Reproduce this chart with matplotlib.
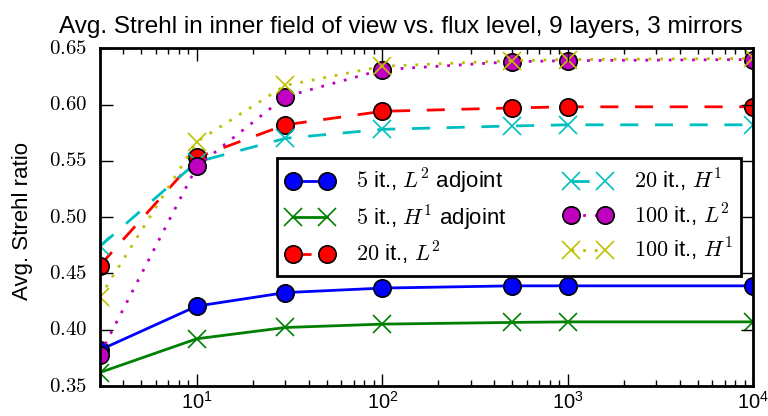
import matplotlib
matplotlib.use("Agg")
import matplotlib.pyplot as plt

plt.style.use("classic")
plt.rcParams["mathtext.fontset"] = "cm"
plt.rcParams["font.family"] = ["Liberation Sans", "DejaVu Sans"]
plt.rcParams["figure.facecolor"] = "white"

# flux levels
flux = [3, 10, 30, 100, 500, 1000, 10000]

# average Strehl ratio per method
l2_5 = [0.382, 0.421, 0.433, 0.437, 0.439, 0.439, 0.439]
h1_5 = [0.362, 0.392, 0.402, 0.405, 0.4065, 0.407, 0.407]
l2_20 = [0.457, 0.553, 0.582, 0.594, 0.597, 0.598, 0.598]
h1_20 = [0.474, 0.549, 0.570, 0.578, 0.581, 0.582, 0.582]
l2_100 = [0.378, 0.545, 0.607, 0.631, 0.638, 0.639, 0.640]
h1_100 = [0.429, 0.567, 0.617, 0.634, 0.639, 0.640, 0.641]

fig = plt.figure(figsize=(7.68, 4.16), dpi=100)
ax = fig.add_axes([0.130, 0.072, 0.851, 0.812])

ms = 12.5
dash = (13, 12)
dot = (2, 6.4)
ax.plot(flux, l2_5, "b-o", lw=2, ms=ms, mew=1.2, label="$5$ it., $L^2$ adjoint")
ax.plot(flux, h1_5, "g-x", lw=2, ms=ms, mew=1.2, label="$5$ it., $H^1$ adjoint")
ax.plot(flux, l2_20, "r--o", lw=2, ms=ms, mew=1.2, dashes=dash, label="$20$ it., $L^2$")
ax.plot(flux, h1_20, "c--x", lw=2, ms=ms, mew=1.2, dashes=dash, label="$20$ it., $H^1$")
ax.plot(flux, l2_100, "m:o", lw=2, ms=ms, mew=1.2, dashes=dot, label="$100$ it., $L^2$")
ax.plot(flux, h1_100, "y:x", lw=2, ms=ms, mew=1.2, dashes=dot, label="$100$ it., $H^1$")

ax.set_xscale("log")
ax.set_xlim(3, 10000)
ax.set_ylim(0.35, 0.65)
ax.set_yticks([0.35, 0.40, 0.45, 0.50, 0.55, 0.60, 0.65])
ax.set_yticklabels(["$0.35$", "$0.40$", "$0.45$", "$0.50$", "$0.55$", "$0.60$", "$0.65$"])
for s in ax.spines.values():
    s.set_linewidth(2)
ax.tick_params(which="major", length=9, width=1, labelsize=15)
ax.tick_params(axis="x", which="major", pad=3.5, labelsize=14.5)
ax.tick_params(axis="y", which="major", pad=9)
ax.tick_params(which="minor", length=4.5, width=1)

ax.set_title("Avg. Strehl in inner field of view vs. flux level, 9 layers, 3 mirrors",
             fontsize=17.5, x=0.461, pad=11)
ax.set_ylabel("Avg. Strehl ratio", fontsize=16)
ax.yaxis.set_label_coords(-0.103, 0.49)

leg = ax.legend(loc="center right", ncol=2, numpoints=2, fontsize=16,
                borderaxespad=0.55, columnspacing=2.6, handletextpad=1.0,
                handlelength=2.13, labelspacing=0.34)
leg.get_frame().set_linewidth(2)

fig.savefig("out.png", dpi=100)
